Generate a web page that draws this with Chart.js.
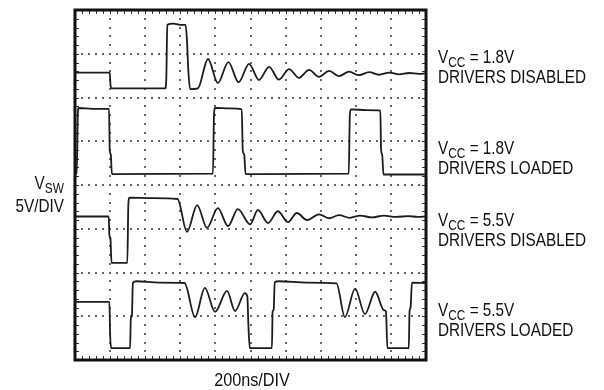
<!DOCTYPE html>
<html>
<head>
<meta charset="utf-8">
<script src="https://cdn.jsdelivr.net/npm/chart.js@4/dist/chart.umd.min.js"></script>
<style>
  html, body { margin: 0; padding: 0; background: #fff; }
  #wrap { position: relative; width: 604px; height: 390px; overflow: hidden; }
  canvas { position: absolute; left: 0; top: 0; }
  .lbl {
    position: absolute;
    font-family: "Liberation Sans Narrow", "Liberation Sans", sans-serif;
    font-size: 18px;
    line-height: 18px;
    color: #111;
    white-space: nowrap;
    transform: scaleX(0.85);
    transform-origin: left top;
  }
  .lbl sub { font-size: 14px; vertical-align: -4px; line-height: 0; }
  .right { text-align: right; transform-origin: right top; }
  .mid { text-align: center; transform-origin: center top; transform: scaleX(0.9); }
</style>
</head>
<body>
<div id="wrap">
  <canvas id="scope" width="604" height="390"></canvas>

  <div class="lbl" style="left:438px; top:48px">V<sub>CC</sub> = 1.8V</div>
  <div class="lbl" style="left:438px; top:68px">DRIVERS DISABLED</div>
  <div class="lbl" style="left:438px; top:139px">V<sub>CC</sub> = 1.8V</div>
  <div class="lbl" style="left:438px; top:159px">DRIVERS LOADED</div>
  <div class="lbl" style="left:438px; top:211px">V<sub>CC</sub> = 5.5V</div>
  <div class="lbl" style="left:438px; top:231px">DRIVERS DISABLED</div>
  <div class="lbl" style="left:438px; top:301px">V<sub>CC</sub> = 5.5V</div>
  <div class="lbl" style="left:438px; top:321px">DRIVERS LOADED</div>

  <div class="lbl right" style="left:0; width:64px; top:174px">V<sub>SW</sub></div>
  <div class="lbl right" style="left:0; width:64px; top:197px">5V/DIV</div>

  <div class="lbl mid" style="left:0; width:504px; top:371px">200ns/DIV</div>
</div>

<script>
// ── Data (time in divisions of 200ns, level in divisions of 5V) ──────────────
// VCC = 1.8V, drivers disabled
const t1 = [0, 0.99, 1.01, 1.04, 2.57, 2.60, 2.63, 2.80, 3.00, 3.15, 3.19, 3.23, 3.28, 3.50,
            3.79, 4.07, 4.37, 4.66, 4.96, 5.24, 5.53, 5.81, 6.10, 6.38, 6.67, 6.95, 7.24, 7.52,
            7.81, 8.09, 8.38, 8.66, 8.95, 9.23, 9.52, 9.80, 10];
const v1 = [6.57, 6.57, 6.30, 6.21, 6.21, 6.40, 7.66, 7.69, 7.66, 7.66, 7.30, 6.60, 6.19, 6.21,
            6.88, 6.33, 6.81, 6.35, 6.77, 6.40, 6.70, 6.41, 6.65, 6.45, 6.63, 6.47, 6.61, 6.49,
            6.59, 6.51, 6.58, 6.52, 6.57, 6.53, 6.56, 6.54, 6.55];

// VCC = 1.8V, drivers loaded
const t2 = [0, 0.05, 0.08, 0.10, 0.50, 0.97, 0.99, 1.02, 1.05, 3.93, 3.96, 3.99, 4.40, 4.75,
            4.78, 4.82, 4.86, 7.80, 7.83, 7.86, 8.30, 8.70, 8.72, 8.75, 8.79, 10];
const v2 = [4.25, 4.25, 5.60, 5.76, 5.74, 5.74, 4.78, 4.70, 4.25, 4.26, 5.60, 5.76, 5.75, 5.73,
            4.78, 4.70, 4.25, 4.26, 5.60, 5.73, 5.71, 5.70, 4.80, 4.70, 4.24, 4.24];

// VCC = 5.5V, drivers disabled
const t3 = [0, 0.96, 0.98, 1.01, 1.04, 1.49, 1.52, 1.55, 2.20, 2.92, 3.19, 3.48, 3.76, 4.07,
            4.36, 4.64, 4.99, 5.21, 5.50, 5.78, 6.07, 6.32, 6.61, 6.95, 7.24, 7.52, 7.83,
            8.12, 8.46, 8.80, 9.15, 9.49, 9.77, 10];
const v3 = [3.28, 3.28, 2.85, 2.78, 2.22, 2.22, 3.55, 3.71, 3.70, 3.68, 2.93, 3.54, 3.02, 3.47,
            3.06, 3.45, 3.10, 3.43, 3.13, 3.40, 3.15, 3.36, 3.20, 3.33, 3.24, 3.31, 3.25,
            3.30, 3.26, 3.30, 3.27, 3.29, 3.27, 3.28];

// VCC = 5.5V, drivers loaded
const t4 = [0, 0.98, 1.00, 1.03, 1.57, 1.59, 1.62, 1.65, 1.75, 2.40, 3.12, 3.42, 3.70, 3.99,
            4.33, 4.56, 4.84, 4.91, 4.94, 4.98, 5.61, 5.63, 5.66, 5.69, 5.80, 6.60, 7.45,
            7.69, 7.98, 8.26, 8.55, 8.80, 8.86, 8.90, 9.51, 9.53, 9.56, 9.60, 10];
const v4 = [1.33, 1.33, 0.60, 0.27, 0.27, 0.95, 1.00, 1.77, 1.80, 1.77, 1.76, 0.98, 1.65, 1.10,
            1.58, 1.12, 1.53, 1.45, 0.80, 0.27, 0.27, 1.10, 1.15, 1.78, 1.80, 1.77, 1.75,
            0.98, 1.63, 1.05, 1.56, 1.14, 1.10, 0.27, 0.27, 1.10, 1.20, 1.77, 1.76];

const X_DIVS = 10;
const Y_DIVS = 8;

// ── Helpers ─────────────────────────────────────────────────────────────────
const toPoints = (ts, vs) => ts.map((t, i) => ({ x: t, y: vs[i] }));

const trace = (ts, vs) => ({
  data: toPoints(ts, vs),
  borderColor: '#1c1c1c',
  borderWidth: 1.8,
  pointRadius: 0,
  cubicInterpolationMode: 'monotone',
  fill: false,
});

// ── Scope graticule: dotted grid, framed border with minor ticks ────────────
const graticule = {
  id: 'graticule',
  beforeDatasetsDraw(chart) {
    const { ctx, chartArea: a, scales: { x, y } } = chart;
    ctx.save();
    ctx.fillStyle = '#666';

    // dotted division lines
    for (let i = 1; i < X_DIVS; i++) {
      const px = Math.round(x.getPixelForValue(i));
      for (let j = 0; j <= Y_DIVS * 5; j++) {
        const py = Math.round(y.getPixelForValue(j / 5));
        ctx.fillRect(px - 1, py - 1, 2, 2);
      }
    }
    for (let j = 1; j < Y_DIVS; j++) {
      const py = Math.round(y.getPixelForValue(j));
      for (let i = 0; i <= X_DIVS * 5; i++) {
        const px = Math.round(x.getPixelForValue(i / 5));
        ctx.fillRect(px - 1, py - 1, 2, 2);
      }
    }

    // minor ticks on the inside of the frame
    ctx.strokeStyle = '#333';
    ctx.lineWidth = 1;
    ctx.beginPath();
    for (let i = 1; i < X_DIVS * 5; i++) {
      const px = Math.round(x.getPixelForValue(i / 5)) + 0.5;
      ctx.moveTo(px, a.top); ctx.lineTo(px, a.top + 4);
      ctx.moveTo(px, a.bottom); ctx.lineTo(px, a.bottom - 4);
    }
    for (let j = 1; j < Y_DIVS * 5; j++) {
      const py = Math.round(y.getPixelForValue(j / 5)) + 0.5;
      ctx.moveTo(a.left, py); ctx.lineTo(a.left + 4, py);
      ctx.moveTo(a.right, py); ctx.lineTo(a.right - 4, py);
    }
    ctx.stroke();

    // frame
    ctx.strokeStyle = '#111';
    ctx.lineWidth = 3;
    ctx.strokeRect(a.left, a.top, a.right - a.left, a.bottom - a.top);
    ctx.restore();
  },
};

// ── Chart ───────────────────────────────────────────────────────────────────
new Chart(document.getElementById('scope'), {
  type: 'line',
  data: {
    datasets: [trace(t1, v1), trace(t2, v2), trace(t3, v3), trace(t4, v4)],
  },
  options: {
    responsive: false,
    animation: false,
    layout: { padding: { left: 75, top: 10, right: 178, bottom: 30 } },
    plugins: { legend: { display: false }, tooltip: { enabled: false } },
    scales: {
      x: { type: 'linear', min: 0, max: X_DIVS, display: false },
      y: { type: 'linear', min: 0, max: Y_DIVS, display: false },
    },
  },
  plugins: [graticule],
});
</script>
</body>
</html>
